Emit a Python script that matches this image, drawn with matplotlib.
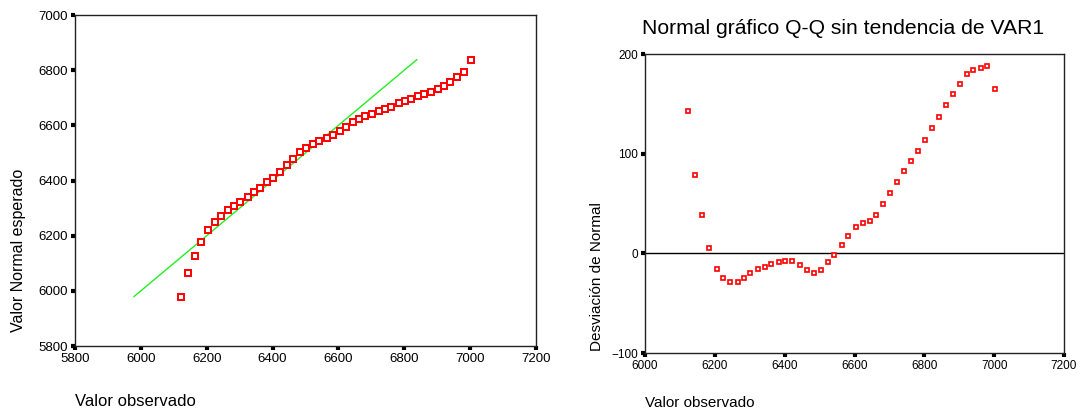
import matplotlib
matplotlib.use("Agg")
import matplotlib.pyplot as plt

plt.rcParams["font.family"] = ["Liberation Sans", "DejaVu Sans"]

observed = [6122, 6143, 6164, 6182, 6205, 6224, 6243, 6265, 6283, 6302,
            6325, 6343, 6362, 6384, 6402, 6422, 6443, 6463, 6483, 6503,
            6523, 6542, 6564, 6582, 6604, 6624, 6643, 6663, 6682, 6701,
            6723, 6742, 6761, 6783, 6802, 6821, 6842, 6861, 6881, 6901,
            6921, 6940, 6961, 6980, 7003]
deviation = [142.8, 78.8, 38.4, 5.1, -15.8, -24.6, -28.3, -28.3, -24.9, -20.2,
             -15.8, -13.8, -11.1, -9.1, -7.4, -7.4, -12.1, -16.5, -20.2, -16.5,
             -9.1, -1.7, 8.4, 17.5, 26.3, 30.6, 32.0, 38.4, 49.8, 60.3,
             71.7, 82.8, 92.9, 103.0, 114.1, 125.3, 136.4, 148.5, 159.6, 169.7,
             179.8, 183.8, 186.2, 188.2, 165.0]
expected = [o - d for o, d in zip(observed, deviation)]

left_xticks = [5800, 6000, 6200, 6400, 6600, 6800, 7000, 7200]
left_yticks = [5800, 6000, 6200, 6400, 6600, 6800, 7000]
right_xticks = [6000, 6200, 6400, 6600, 6800, 7000, 7200]
right_yticks = [-100, 0, 100, 200]

W, H = 1082, 411
fig = plt.figure(figsize=(W / 100, H / 100), dpi=100)


def px_axes(l, t, r, b):
    return fig.add_axes([l / W, (H - b) / H, (r - l) / W, (b - t) / H])


def style(ax, size):
    for side in ["top", "right", "left", "bottom"]:
        ax.spines[side].set_linewidth(1.0)
        ax.spines[side].set_color("#222222")
    ax.tick_params(direction="out", length=3, width=3, pad=2,
                   labelsize=size, top=False, right=False, color="black")


red = "#ff0000"

# left: normal Q-Q
ax1 = px_axes(75, 15, 536, 346)
lo, hi = min(expected), max(expected)
ax1.plot([lo, hi], [lo, hi], color="#22ee22", lw=1.0, zorder=2)
ax1.plot(observed, expected, ls="none", marker="s", ms=3.8, mew=1.4,
         mfc="white", mec=red, zorder=3)
ax1.set_xlim(5800, 7200)
ax1.set_ylim(5800, 7000)
ax1.set_xticks(left_xticks)
ax1.set_yticks(left_yticks)
style(ax1, 9.5)

# right: detrended Q-Q
ax2 = px_axes(645, 54, 1064, 353)
ax2.axhline(0, color="black", lw=1.0, zorder=2)
ax2.plot(observed, deviation, ls="none", marker="s", ms=3.2, mew=1.2,
         mfc="white", mec=red, zorder=3)
ax2.set_xlim(6000, 7200)
ax2.set_ylim(-100, 200)
ax2.set_xticks(right_xticks)
ax2.set_yticks(right_yticks)
style(ax2, 8.5)

fig.text(75 / W, (H - 401) / H, "Valor observado", fontsize=12,
         ha="left", va="center")
fig.text(19 / W, (H - 250) / H, "Valor Normal esperado", fontsize=11.5,
         rotation=90, ha="center", va="center")
fig.text(645 / W, (H - 403) / H, "Valor observado", fontsize=11,
         ha="left", va="center")
fig.text(597 / W, (H - 277) / H, "Desviación de Normal", fontsize=11,
         rotation=90, ha="center", va="center")
fig.text(843 / W, (H - 28) / H, "Normal gráfico Q-Q sin tendencia de VAR1",
         fontsize=15.2, ha="center", va="center")

fig.savefig("out.png", dpi=100)
plt.close(fig)
